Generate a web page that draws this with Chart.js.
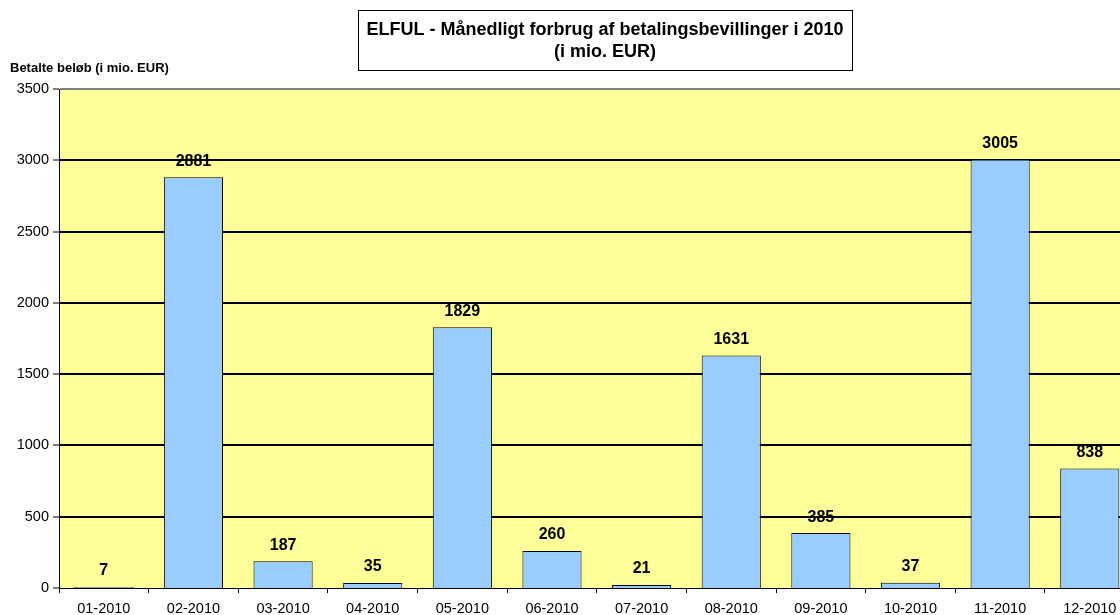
<!DOCTYPE html>
<html><head><meta charset="utf-8">
<script src="https://cdn.jsdelivr.net/npm/chart.js@4/dist/chart.umd.min.js"></script>
<style>html,body{margin:0;padding:0;overflow:hidden;background:#fff;width:1120px;height:615px}
#wrap{width:1140px;height:615px;position:relative}</style>
</head><body><div id="wrap"><canvas id="c" width="1140" height="615"></canvas></div>
<script>
const categories = ["01-2010","02-2010","03-2010","04-2010","05-2010","06-2010","07-2010","08-2010","09-2010","10-2010","11-2010","12-2010"];
const values = [7,2881,187,35,1829,260,21,1631,385,37,3005,838];
const yTicks = [0,500,1000,1500,2000,2500,3000,3500];
const titleLines = ["ELFUL - Månedligt forbrug af betalingsbevillinger i 2010","(i mio. EUR)"];
const yTitle = "Betalte beløb (i mio. EUR)";

const F = "Arial, 'Liberation Sans', sans-serif";
const bgPlugin = {
  id:'bg',
  beforeDraw(chart){
    const {ctx, chartArea:a} = chart;
    ctx.save(); ctx.fillStyle='#FFFF99'; ctx.fillRect(a.left,a.top,a.right-a.left,a.bottom-a.top); ctx.restore();
  },
  beforeDatasetsDraw(chart){
    const ctx = chart.ctx;
    ctx.save();
    const meta = chart.getDatasetMeta(0);
    ctx.fillStyle='#000'; ctx.font='bold 16px '+F; ctx.textAlign='center'; ctx.textBaseline='middle';
    meta.data.forEach((b,i)=>{ ctx.fillText(String(values[i]), b.x, b.y-16); });
    ctx.restore();
  },
  afterDraw(chart){
    const ctx = chart.ctx;
    ctx.save();
    ctx.strokeStyle='#000'; ctx.lineWidth=1;
    ctx.fillStyle='#fff';
    ctx.fillRect(358.5,10.5,494,60);
    ctx.strokeRect(358.5,10.5,494,60);
    ctx.fillStyle='#000'; ctx.font='bold 18px '+F; ctx.textAlign='center'; ctx.textBaseline='middle';
    ctx.fillText(titleLines[0],605,30);
    ctx.fillText(titleLines[1],605,52);
    ctx.font='bold 13px '+F; ctx.textAlign='left';
    ctx.fillText(yTitle,10,68);
    ctx.restore();
  }
};

new Chart(document.getElementById('c'),{
  type:'bar',
  data:{labels:categories,datasets:[{data:values,backgroundColor:'#99CCFF',borderColor:'#000',borderWidth:1,categoryPercentage:0.66,barPercentage:1}]},
  options:{
    responsive:false, animation:false,
    layout:{padding:{left:0,top:89,right:5.4,bottom:0}},
    plugins:{legend:{display:false},tooltip:{enabled:false},title:{display:false}},
    scales:{
      x:{
        grid:{drawOnChartArea:false,drawTicks:true,tickLength:5,tickColor:'#000',offset:true},
        border:{color:'#000',width:1},
        ticks:{color:'#000',font:{family:F,size:14.5},padding:7,maxRotation:0,autoSkip:false},
        afterFit(s){s.height=27;}
      },
      y:{
        min:0,max:3500,
        afterBuildTicks(s){s.ticks=yTicks.map(v=>({value:v}));},
        grid:{color:(c)=>c.tick && c.tick.value===3500?'#808080':'#000',lineWidth:(c)=>c.tick && c.tick.value===0?0:2,tickLength:6,tickColor:'#000',tickWidth:1},
        border:{color:'#000',width:1},
        ticks:{color:'#000',font:{family:F,size:14.5},padding:4,callback:(v)=>String(v)},
        afterFit(s){s.width=59;}
      }
    }
  },
  plugins:[bgPlugin]
});
</script></body></html>
